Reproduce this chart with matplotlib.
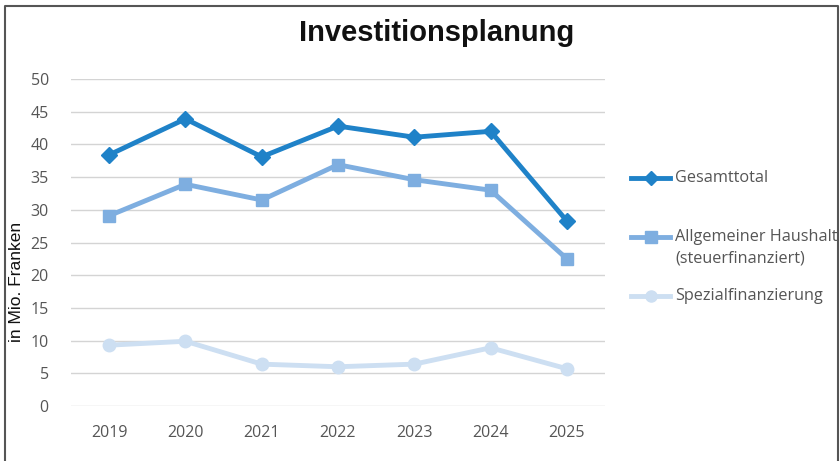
import numpy as np
import matplotlib
matplotlib.use("Agg")
from matplotlib import pyplot as plt
from matplotlib.lines import Line2D

years = ['2019', '2020', '2021', '2022', '2023', '2024', '2025']
gesamt = [38.4, 43.9, 38.1, 42.8, 41.1, 42.0, 28.3]
allgemein = [29.1, 33.9, 31.5, 36.9, 34.6, 33.0, 22.5]
spezial = [9.3, 9.9, 6.4, 6.0, 6.4, 8.9, 5.7]
labels = ['Gesamttotal', 'Allgemeiner Haushalt\n(steuerfinanziert)', 'Spezialfinanzierung']
yticks = [0, 5, 10, 15, 20, 25, 30, 35, 40, 45, 50]

W, H = 840, 461
fig = plt.figure(figsize=(W / 100, H / 100), dpi=100)
ax = fig.add_axes([71 / W, 1 - 406 / H, (605 - 71) / W, (406 - 79) / H])

x = np.arange(len(years))
c1, c2, c3 = '#1f82c8', '#7eaee0', '#cddff2'
colors = [c1, c2, c3]
markers = [('D', 7), ('s', 8), ('o', 8)]
ax.plot(x, spezial, color=c3, lw=3.5, marker='o', ms=9, zorder=3)
ax.plot(x, allgemein, color=c2, lw=3.5, marker='s', ms=9, zorder=4)
ax.plot(x, gesamt, color=c1, lw=3.5, marker='D', ms=8, zorder=5)

ax.set_xlim(-0.5, len(years) - 0.5)
ax.set_ylim(0, 50)
ax.set_yticks(yticks)
ax.set_xticks(x)
ax.set_xticklabels(years)
ax.grid(axis='y', color='#d4d4d4', lw=1)
ax.set_axisbelow(True)
for s in ax.spines.values():
    s.set_visible(False)
ax.tick_params(length=0, labelsize=11.5, labelcolor='#555555')
ax.tick_params(axis='x', pad=14)
ax.tick_params(axis='y', pad=16)
for t in ax.get_xticklabels() + ax.get_yticklabels():
    t.set_family('Open Sans')

fig.text(17 / W, 1 - 282 / H, 'in Mio. Franken', rotation=90, ha='center', va='center',
         fontsize=12.5, family='Liberation Sans', color='#111111')
fig.text(437 / W, 1 - 33 / H, 'Investitionsplanung', ha='center', va='center',
         fontsize=21, fontweight='heavy', family='Liberation Sans', color='#111111')

# legend drawn by hand: handle sits on first text line, uneven spacing like the original
rows = [178, 237, 296]
for col, (mk, ms), lab, cy in zip(colors, markers, labels, rows):
    yy = 1 - cy / H
    fig.add_artist(Line2D([631 / W, 670 / W], [yy, yy], transform=fig.transFigure,
                          color=col, lw=3.5))
    fig.add_artist(Line2D([651 / W], [yy], transform=fig.transFigure,
                          color=col, marker=mk, ms=ms))
    fig.text(675 / W, yy + 8 / H, lab, ha='left', va='top', fontsize=11.7,
             family='Open Sans', color='#555555', linespacing=1.45)

# outer frame (left, top, right edges)
fig.add_artist(Line2D([5 / W, 5 / W, 838 / W, 838 / W], [0, 1 - 6 / H, 1 - 6 / H, 0],
                      transform=fig.transFigure, color='#555555', lw=1.5))

fig.savefig('out.png', dpi=100)
